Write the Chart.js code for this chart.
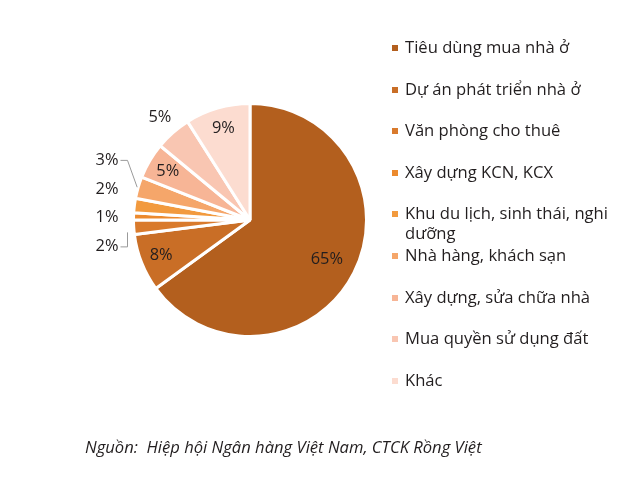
<!DOCTYPE html>
<html>
<head>
<meta charset="utf-8">
<script src="https://cdn.jsdelivr.net/npm/chart.js@4.4.0/dist/chart.umd.min.js"></script>
<style>
    body { margin: 0; background: #fff; width: 630px; height: 481px; overflow: hidden; font-family: "Open Sans", sans-serif; color: #221e1f; }
    #wrap { position: absolute; left: 0; top: 0; width: 500px; height: 440px; }
    #legend { position: absolute; left: 386px; top: 37px; width: 234px; }
    .item { position: relative; height: 41.6px; font-size: 16.6px; line-height: 20px; padding-left: 19px; }
    .item i { position: absolute; left: 6px; top: 8px; width: 6px; height: 6px; }
    #source { position: absolute; left: 85px; top: 437px; font-size: 16.6px; line-height: 20px; font-style: italic; color: #221e1f; }
</style>
</head>
<body>
<div id="wrap"><canvas id="pieChart"></canvas></div>
<div id="legend"></div>
<div id="source">Nguồn:&nbsp; Hiệp hội Ngân hàng Việt Nam, CTCK Rồng Việt</div>
<script>
var categories = ['Tiêu dùng mua nhà ở', 'Dự án phát triển nhà ở', 'Văn phòng cho thuê', 'Xây dựng KCN, KCX',
    'Khu du lịch, sinh thái, nghi dưỡng', 'Nhà hàng, khách sạn', 'Xây dựng, sửa chữa nhà', 'Mua quyền sử dụng đất', 'Khác'];
var shares = [65, 8, 2, 1, 2, 3, 5, 5, 9];
var colors = ['#b35f1e', '#c96e26', '#d97a2c', '#ec8a2e', '#f29a3e', '#f5a66a', '#f7b596', '#f9c6b2', '#fcdcd0'];

// which slices get their label outside the pie
var outsideIdx = [2, 3, 4, 5, 7];
var stackedIdx = [2, 3, 4, 5];

var pctLabels = {
    id: 'pctLabels',
    afterDatasetsDraw: function (chart) {
        var ctx = chart.ctx;
        var arcs = chart.getDatasetMeta(0).data;
        var vals = chart.data.datasets[0].data;
        ctx.save();
        ctx.font = '16.4px "Open Sans", sans-serif';
        ctx.fillStyle = '#221e1f';
        ctx.textBaseline = 'middle';
        arcs.forEach(function (a, i) {
            if (stackedIdx.indexOf(i) >= 0) return;
            var mid = (a.startAngle + a.endAngle) / 2;
            var f = outsideIdx.indexOf(i) >= 0 ? 1.17 : (vals[i] > 50 ? 0.74 : 0.82);
            ctx.textAlign = 'center';
            ctx.fillText(vals[i] + '%', a.x + Math.cos(mid) * a.outerRadius * f, a.y + Math.sin(mid) * a.outerRadius * f);
        });
        // small slices: stacked on the left
        var mids = stackedIdx.map(function (i) {
            var a = arcs[i];
            var m = (a.startAngle + a.endAngle) / 2;
            return {i: i, a: a, m: m, y: a.y + Math.sin(m) * a.outerRadius};
        });
        var meanY = mids.reduce(function (s, d) { return s + d.y; }, 0) / mids.length - 6;
        var gap = 28.5;
        var n = mids.length;
        ctx.textAlign = 'right';
        ctx.strokeStyle = '#9a9a9a';
        ctx.lineWidth = 1;
        mids.forEach(function (d, k) {
            var a = d.a;
            var ly = meanY + ((n - 1) / 2 - k) * gap;
            var lx = a.x - a.outerRadius - 15;
            ctx.fillText(vals[d.i] + '%', lx, ly);
            if (k === 0 || k === n - 1) {
                var bx = a.x - a.outerRadius - 6;
                var ex = a.x + Math.cos(d.m) * (a.outerRadius + 1);
                var ey = a.y + Math.sin(d.m) * (a.outerRadius + 1);
                ctx.beginPath();
                ctx.moveTo(lx + 2, ly + (k === 0 ? 1 : 0));
                ctx.lineTo(bx, ly + (k === 0 ? 1 : 0));
                ctx.lineTo(k === 0 ? bx : ex, ey + (k === 0 ? 5 : 0));
                ctx.stroke();
            }
        });
        ctx.restore();
    }
};

var chart = new Chart(document.getElementById('pieChart'), {
    type: 'pie',
    data: {
        labels: categories,
        datasets: [{
            data: shares,
            backgroundColor: colors,
            borderColor: '#ffffff',
            borderWidth: 3
        }]
    },
    options: {
        responsive: true,
        maintainAspectRatio: false,
        animation: false,
        layout: {padding: {left: 132, right: 132, top: 102, bottom: 102}},
        plugins: {
            legend: {display: false},
            tooltip: {enabled: false}
        }
    },
    plugins: [pctLabels]
});

// html legend, built from the chart's own legend items
var legendEl = document.getElementById('legend');
chart.legend.legendItems.forEach(function (it) {
    var row = document.createElement('div');
    row.className = 'item';
    var box = document.createElement('i');
    box.style.background = it.fillStyle;
    row.appendChild(box);
    row.appendChild(document.createTextNode(it.text));
    legendEl.appendChild(row);
});
</script>
</body>
</html>
